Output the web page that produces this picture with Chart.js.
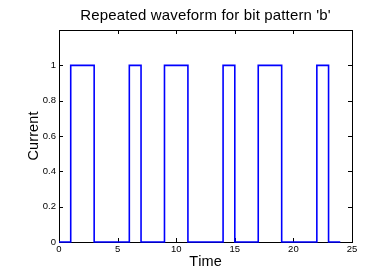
<!DOCTYPE html>
<html>
<head>
<meta charset="utf-8">
<script src="https://cdn.jsdelivr.net/npm/chart.js@4.4.1/dist/chart.umd.min.js"></script>
<style>
  html, body { margin: 0; padding: 0; background: #fff; }
  #wrap { width: 368px; height: 270px; position: relative; }
</style>
</head>
<body>
<div id="wrap"><canvas id="c" width="368" height="270"></canvas></div>
<script>
// Data: piecewise-constant waveform (value holds from each time until the next)
const times   = [0, 1, 3, 6, 7, 9, 11, 14, 15, 17, 19, 22, 23, 24];
const current = [0, 1, 0, 1, 0, 1, 0,  1,  0,  1,  0,  1,  0,  0];
const xTicks = [0, 5, 10, 15, 20, 25];
const yTicks = [0, 0.2, 0.4, 0.6, 0.8, 1];
const yTickLabels = ['0', '0.2', '0.4', '0.6', '0.8', '1'];
const titleText = "Repeated waveform for bit pattern 'b'";
const xTitle = 'Time';
const yTitle = 'Current';

const points = times.map((t, i) => ({ x: t, y: current[i] }));

const FONT = '"Liberation Sans", Arial, Helvetica, sans-serif';

function spacedWidth(ctx, text, sp) {
  let w = 0;
  for (const ch of text) w += ctx.measureText(ch).width + sp;
  return w - sp;
}
function drawSpaced(ctx, text, cx, cy, sp) {
  const w = spacedWidth(ctx, text, sp);
  let x = cx - w / 2;
  ctx.textAlign = 'left';
  for (const ch of text) {
    ctx.fillText(ch, x, cy);
    x += ctx.measureText(ch).width + sp;
  }
}

const boxPlugin = {
  id: 'matlabBox',
  beforeDatasetsDraw(chart) {
    const { ctx, chartArea: a, scales: { x, y } } = chart;
    ctx.save();
    ctx.strokeStyle = '#000';
    ctx.lineWidth = 1;
    ctx.strokeRect(Math.round(a.left) + 0.5, Math.round(a.top) + 0.5,
                   Math.round(a.right - a.left), Math.round(a.bottom - a.top));
    const L = 4;
    ctx.beginPath();
    x.ticks.forEach(t => {
      const px = Math.round(x.getPixelForValue(t.value)) + 0.5;
      ctx.moveTo(px, a.bottom); ctx.lineTo(px, a.bottom - L);
      ctx.moveTo(px, a.top); ctx.lineTo(px, a.top + L);
    });
    y.ticks.forEach(t => {
      const py = Math.round(y.getPixelForValue(t.value)) + 0.5;
      ctx.moveTo(a.left, py); ctx.lineTo(a.left + L, py);
      ctx.moveTo(a.right, py); ctx.lineTo(a.right - L, py);
    });
    ctx.stroke();

    // Titles
    ctx.fillStyle = '#000';
    ctx.textBaseline = 'middle';
    const cx = (a.left + a.right) / 2;
    ctx.font = '15px ' + FONT;
    drawSpaced(ctx, titleText, cx, 16, 0.15);
    ctx.font = '14.5px ' + FONT;
    drawSpaced(ctx, xTitle, cx, 262.3, 0.1);
    ctx.save();
    ctx.translate(34.3, (a.top + a.bottom) / 2);
    ctx.rotate(-Math.PI / 2);
    drawSpaced(ctx, yTitle, 0, 0, 0.1);
    ctx.restore();
    ctx.restore();
  }
};

new Chart(document.getElementById('c'), {
  type: 'line',
  data: {
    datasets: [{
      data: points,
      stepped: 'before',
      borderColor: '#0000ff',
      borderWidth: 1.6,
      pointRadius: 0,
      fill: false,
      clip: false
    }]
  },
  options: {
    responsive: false,
    animation: false,
    events: [],
    layout: { padding: { left: 0, right: 16, top: 30, bottom: 0 } },
    plugins: {
      legend: { display: false },
      tooltip: { enabled: false },
      title: { display: false }
    },
    scales: {
      x: {
        type: 'linear',
        min: 0, max: 25,
        afterBuildTicks: s => { s.ticks = xTicks.map(v => ({ value: v })); },
        afterFit: s => { s.height = 28; },
        grid: { display: false, drawTicks: false },
        border: { display: false },
        ticks: {
          color: '#000', padding: 2, maxRotation: 0,
          font: { family: FONT, size: 9.5 },
          callback: v => String(v)
        }
      },
      y: {
        type: 'linear',
        min: 0, max: 1.2,
        afterBuildTicks: s => { s.ticks = yTicks.map(v => ({ value: v })); },
        afterFit: s => { s.width = 59; },
        grid: { display: false, drawTicks: false },
        border: { display: false },
        ticks: {
          color: '#000', padding: 3,
          font: { family: FONT, size: 9.5 },
          callback: (v) => { const i = yTicks.indexOf(v); return i >= 0 ? yTickLabels[i] : ''; }
        }
      }
    }
  },
  plugins: [boxPlugin]
});
</script>
</body>
</html>
